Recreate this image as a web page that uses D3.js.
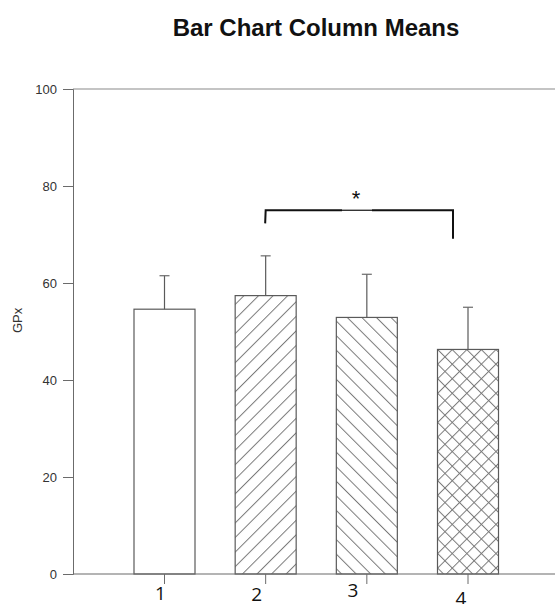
<!DOCTYPE html>
<html>
<head>
<meta charset="utf-8">
<script src="https://cdn.jsdelivr.net/npm/d3@7"></script>
<style>
  html, body { margin: 0; padding: 0; background: #fff; }
  svg { display: block; }
</style>
</head>
<body>
<div id="chart"></div>
<script>
// Column means with error bars (upper SD whisker)
const groups = ["1", "2", "3", "4"];
const means = [54.6, 57.4, 52.9, 46.3];
const upper = [61.5, 65.6, 61.8, 55.0];
const fills = ["none", "fwd", "back", "cross"];
const yTicks = [0, 20, 40, 60, 80, 100];
const sigPair = ["2", "4"];
const sigLabel = "*";

(function () {
const W = 555, H = 604;
const svg = d3.select("#chart").append("svg").attr("width", W).attr("height", H);

const axisColor = "#6b6b6b";
const plotLeft = 73, plotRight = 555, plotTop = 89, plotBottom = 574;

const y = d3.scaleLinear().domain([0, 100]).range([plotBottom, plotTop]);
const x = d3.scaleLinear().domain([1, 4]).range([164.5, 468]);
const barW = 61;

// Hatch patterns
const defs = svg.append("defs");
function hatch(id, angle) {
  const p = defs.append("pattern")
    .attr("id", id)
    .attr("patternUnits", "userSpaceOnUse")
    .attr("width", 10.3).attr("height", 10.3)
    .attr("patternTransform", `rotate(${angle})`);
  p.append("line").attr("x1", 0.5).attr("y1", 0).attr("x2", 0.5).attr("y2", 10.3)
    .attr("stroke", "#7a7a7a").attr("stroke-width", 1);
}
hatch("fwd", 45);
hatch("back", -45);
hatch("crossA", 45);
hatch("crossB", -45);

// Title
svg.append("text")
  .attr("x", 316).attr("y", 36)
  .attr("text-anchor", "middle")
  .attr("font-family", "Liberation Sans, Arial, sans-serif")
  .attr("font-weight", "bold").attr("font-size", 24)
  .attr("fill", "#111")
  .text("Bar Chart Column Means");

// Top frame line
svg.append("line").attr("x1", plotLeft).attr("x2", plotRight).attr("y1", y(100)).attr("y2", y(100))
  .attr("stroke", "#8a8a8a").attr("stroke-width", 1.2);

// Y axis
const yAxis = d3.axisLeft(y).tickValues(yTicks).tickSize(10).tickPadding(6).tickFormat(d3.format("d"));
const gy = svg.append("g").attr("transform", `translate(${plotLeft},0)`).call(yAxis);
gy.select(".domain").attr("stroke", axisColor);
gy.selectAll(".tick line").attr("stroke", axisColor);
gy.selectAll(".tick text")
  .attr("font-family", "Liberation Sans, Arial, sans-serif")
  .attr("font-size", 13).attr("fill", "#333");

svg.append("text")
  .attr("transform", `translate(21.5,${(y(55) + y(50)) / 2 + 1}) rotate(-90)`)
  .attr("text-anchor", "middle")
  .attr("font-family", "Liberation Sans, Arial, sans-serif")
  .attr("font-size", 13).attr("fill", "#333")
  .text("GPx");

// Bars
const data = groups.map((g, i) => ({ g, i: i + 1, mean: means[i], up: upper[i], fill: fills[i] }));
const bars = svg.append("g");
data.forEach(d => {
  const x0 = x(d.i) - barW / 2;
  const rectAttrs = sel => sel.attr("x", x0).attr("y", y(d.mean))
    .attr("width", barW).attr("height", y(0) - y(d.mean));
  if (d.fill === "cross") {
    bars.append("rect").call(rectAttrs).attr("fill", "#fff");
    bars.append("rect").call(rectAttrs).attr("fill", "url(#crossA)");
    bars.append("rect").call(rectAttrs).attr("fill", "url(#crossB)");
  } else {
    bars.append("rect").call(rectAttrs).attr("fill", d.fill === "none" ? "#fff" : `url(#${d.fill})`);
  }
  bars.append("rect").call(rectAttrs).attr("fill", "none")
    .attr("stroke", "#5a5a5a").attr("stroke-width", 1.2);
  // error whisker
  bars.append("line").attr("x1", x(d.i)).attr("x2", x(d.i))
    .attr("y1", y(d.mean)).attr("y2", y(d.up))
    .attr("stroke", "#5a5a5a").attr("stroke-width", 1.2);
  bars.append("line").attr("x1", x(d.i) - 5).attr("x2", x(d.i) + 5)
    .attr("y1", y(d.up)).attr("y2", y(d.up))
    .attr("stroke", "#6a6a6a").attr("stroke-width", 1.2);
});

// X axis
svg.append("line").attr("x1", plotLeft).attr("x2", plotRight).attr("y1", plotBottom).attr("y2", plotBottom)
  .attr("stroke", axisColor).attr("stroke-width", 1.2);
const labelNudge = [[-4, 25.5], [-9, 27], [-14, 23], [-7, 31]];
data.forEach((d, k) => {
  svg.append("line").attr("x1", x(d.i)).attr("x2", x(d.i))
    .attr("y1", plotBottom).attr("y2", plotBottom + 10)
    .attr("stroke", axisColor).attr("stroke-width", 1);
  svg.append("text")
    .attr("x", x(d.i) + labelNudge[k][0]).attr("y", plotBottom + labelNudge[k][1])
    .attr("text-anchor", "middle")
    .attr("font-family", "Open Sans, Noto Sans, sans-serif")
    .attr("font-size", 19).attr("fill", "#111")
    .text(d.g);
});

// Significance bracket between groups 2 and 4
const bx1 = x(groups.indexOf(sigPair[0]) + 1);
const bx2 = x(groups.indexOf(sigPair[1]) + 1) - 15;
const by = y(75);
const midL = 342, midR = 372;
const br = svg.append("g").attr("stroke", "#111").attr("fill", "none");
br.append("path").attr("d", `M${bx1 - 0.5},${y(72.3)} L${bx1},${by} L${midL},${by}`).attr("stroke-width", 2);
br.append("line").attr("x1", midL).attr("x2", midR).attr("y1", by).attr("y2", by).attr("stroke-width", 1.2);
br.append("path").attr("d", `M${midR},${by} L${bx2},${by} L${bx2},${y(69.1)}`).attr("stroke-width", 2);
svg.append("text")
  .attr("x", 356).attr("y", by - 4)
  .attr("text-anchor", "middle")
  .attr("font-family", "Liberation Sans, Arial, sans-serif")
  .attr("font-size", 22).attr("fill", "#111")
  .text(sigLabel);
})();
</script>
</body>
</html>
